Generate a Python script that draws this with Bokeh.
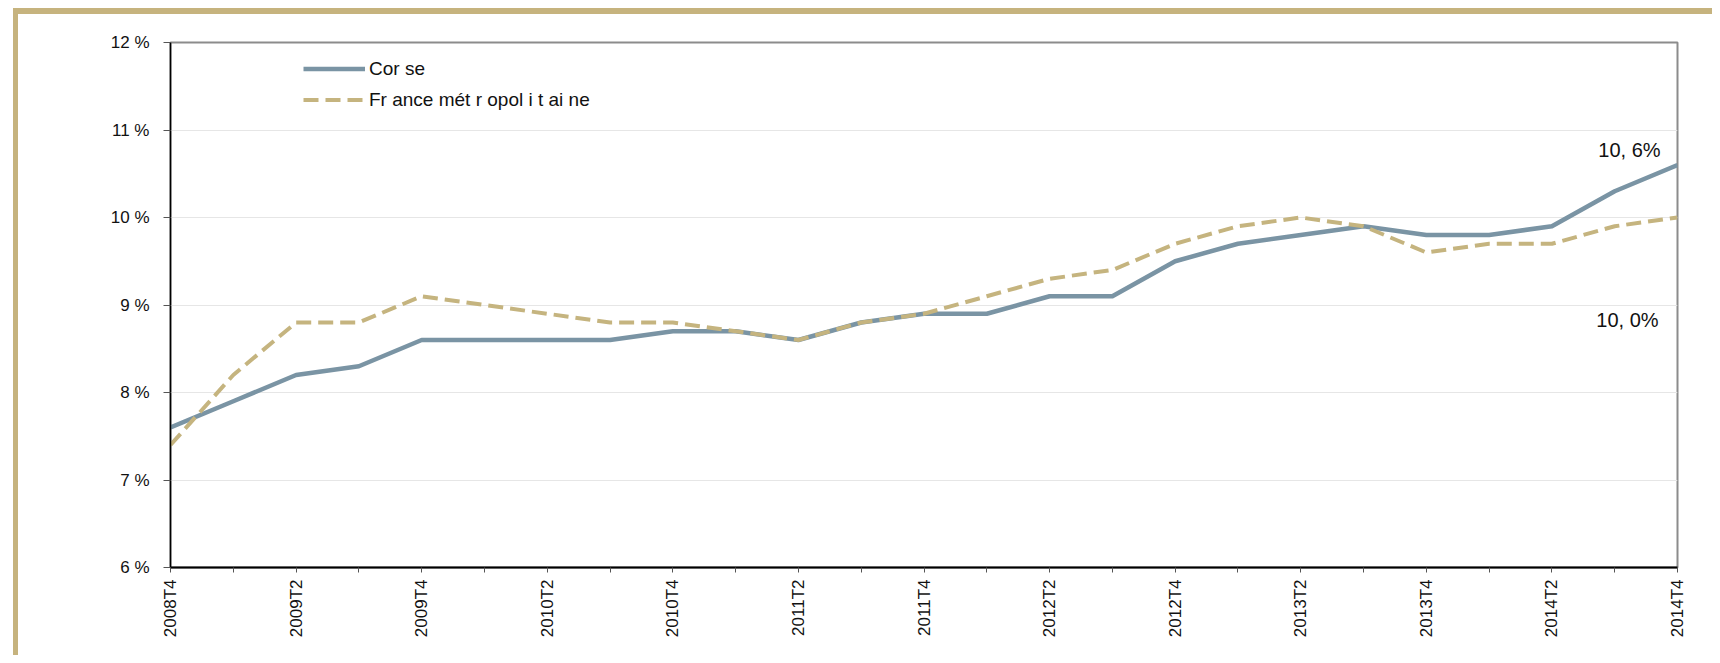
import math
from bokeh.plotting import figure
from bokeh.models import (Range1d, FixedTicker, Legend, LegendItem, Label,
                          Div, Spacer)
from bokeh.layouts import row, column
from bokeh.embed import file_html
from bokeh.resources import INLINE

quarters = ["2008T4", "2009T1", "2009T2", "2009T3", "2009T4",
            "2010T1", "2010T2", "2010T3", "2010T4",
            "2011T1", "2011T2", "2011T3", "2011T4",
            "2012T1", "2012T2", "2012T3", "2012T4",
            "2013T1", "2013T2", "2013T3", "2013T4",
            "2014T1", "2014T2", "2014T3", "2014T4"]

corse = [7.6, 7.9, 8.2, 8.3, 8.6, 8.6, 8.6, 8.6, 8.7, 8.7, 8.6, 8.8, 8.9,
         8.9, 9.1, 9.1, 9.5, 9.7, 9.8, 9.9, 9.8, 9.8, 9.9, 10.3, 10.6]
france = [7.4, 8.2, 8.8, 8.8, 9.1, 9.0, 8.9, 8.8, 8.8, 8.7, 8.6, 8.8, 8.9,
          9.1, 9.3, 9.4, 9.7, 9.9, 10.0, 9.9, 9.6, 9.7, 9.7, 9.9, 10.0]

y_ticks = [6, 7, 8, 9, 10, 11, 12]
y_labels = ["6 %", "7 %", "8 %", "9 %", "10 %", "11 %", "12 %"]
series_names = ["Cor se", "Fr ance mét r opol i t ai ne"]
end_labels = ["10, 6%", "10, 0%"]

FONT = "Liberation Sans"
C_CORSE = "#7A94A4"
C_FRANCE = "#C5B47F"
GOLD = "#C6B37E"

xs = list(range(len(quarters)))

FW, FH = 1694, 641

p = figure(width=FW, height=FH, output_backend="svg", toolbar_location=None,
           x_range=Range1d(0, len(quarters) - 1), y_range=Range1d(6, 12),
           min_border_left=152, min_border_right=35, min_border_top=28,
           min_border_bottom=88)
p.margin = 0
p.background_fill_color = "white"
p.border_fill_color = "white"
p.outline_line_color = "#8C8C8C"
p.outline_line_width = 2

# Axes
p.xaxis.ticker = FixedTicker(ticks=xs)
p.xaxis.major_label_overrides = {i: (q if i % 2 == 0 else "") for i, q in enumerate(quarters)}
p.xaxis.major_label_orientation = math.pi / 2
p.xaxis.major_label_text_font = FONT
p.xaxis.major_label_text_font_size = "17px"
p.xaxis.major_label_text_color = "#111111"
p.xaxis.major_label_standoff = 7
p.xaxis.axis_line_color = "black"
p.xaxis.axis_line_width = 2
p.xaxis.major_tick_out = 5
p.xaxis.major_tick_in = 0
p.xaxis.major_tick_line_color = "#555555"
p.xaxis.minor_tick_line_color = None

p.yaxis.ticker = FixedTicker(ticks=y_ticks)
p.yaxis.major_label_overrides = {t: l for t, l in zip(y_ticks, y_labels)}
p.yaxis.major_label_text_font = FONT
p.yaxis.major_label_text_font_size = "17px"
p.yaxis.major_label_text_color = "#111111"
p.yaxis.major_label_standoff = 14
p.yaxis.axis_line_color = "black"
p.yaxis.axis_line_width = 1.5
p.yaxis.major_tick_out = 7
p.yaxis.major_tick_in = 0
p.yaxis.major_tick_line_color = "#555555"
p.yaxis.minor_tick_line_color = None

p.xgrid.grid_line_color = None
p.ygrid.grid_line_color = "#E6E6E6"
p.ygrid.grid_line_width = 1

# Series
r1 = p.line(xs, corse, line_color=C_CORSE, line_width=4.5, line_join="round")
r2 = p.line(xs, france, line_color=C_FRANCE, line_width=4, line_dash="15 7",
            line_join="round")

legend = Legend(items=[LegendItem(label=series_names[0], renderers=[r1]),
                       LegendItem(label=series_names[1], renderers=[r2])],
                location=(133, 452))
legend.background_fill_alpha = 0
legend.border_line_color = None
legend.padding = 0
legend.margin = 0
legend.spacing = 0
legend.glyph_width = 62
legend.glyph_height = 31
legend.label_standoff = 4
legend.label_text_font = FONT
legend.label_text_font_size = "19px"
legend.label_text_color = "#111111"
legend.label_height = 31
p.add_layout(legend, "center")

# End labels
last = len(quarters) - 1
p.add_layout(Label(x=last, y=corse[-1], text=end_labels[0], x_offset=-48, y_offset=15,
                   text_align="center", text_baseline="middle",
                   text_font=FONT, text_font_size="20px", text_color="#111111"))
p.add_layout(Label(x=last, y=france[-1], text=end_labels[1], x_offset=-50, y_offset=-102,
                   text_align="center", text_baseline="middle",
                   text_font=FONT, text_font_size="20px", text_color="#111111"))

# Gold frame (top bar and left bar) around the chart
top_bar = Div(text="", width=FW + 5, height=6, margin=0,
              styles={"background-color": GOLD})
left_bar = Div(text="", width=5, height=FH, margin=0,
               styles={"background-color": GOLD})
inner = column(top_bar, row(left_bar, p, spacing=0, margin=0), spacing=0, margin=0)
layout = column(Spacer(width=13 + FW + 5, height=8, margin=0),
                row(Spacer(width=13, height=FH + 6, margin=0), inner,
                    spacing=0, margin=0),
                spacing=0, margin=0)

open("out.html", "w").write(file_html(layout, INLINE))
